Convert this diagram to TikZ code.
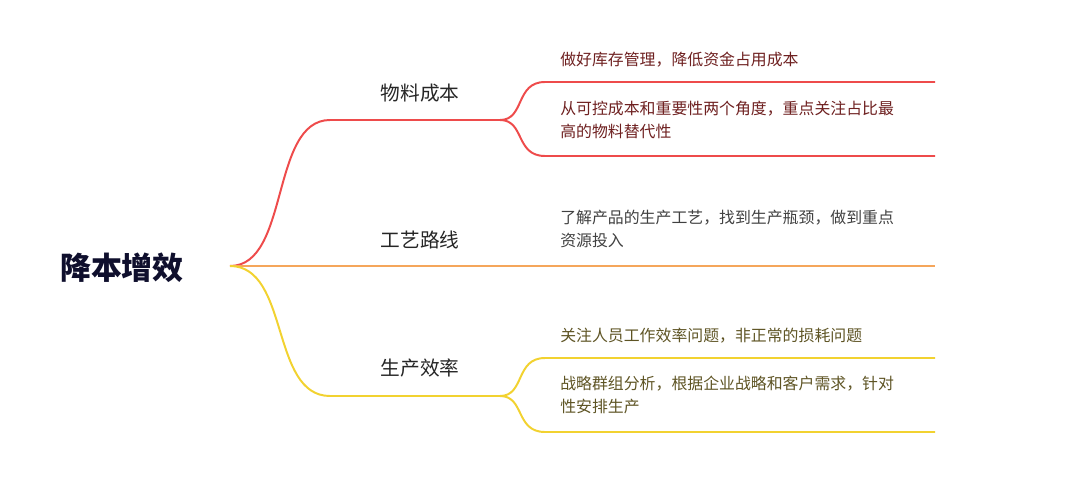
\documentclass[tikz,border=0pt]{standalone}
\usepackage{fontspec}
\setmainfont{Noto Sans CJK SC}
\usetikzlibrary{positioning}
\definecolor{redln}{HTML}{EE4B4B}
\definecolor{orgln}{HTML}{F5A65B}
\definecolor{yelln}{HTML}{F2D230}
\definecolor{redtx}{HTML}{6E2020}
\definecolor{yeltx}{HTML}{5E5424}
\definecolor{roottx}{HTML}{0F0F2D}
\tikzset{
  branch/.style={line width=1.4pt},
  topic/.style={font=\fontsize{14pt}{16pt}\selectfont, text=black!85, inner sep=0pt},
  leaf/.style={font=\fontsize{11.3pt}{16.5pt}\selectfont, anchor=north west, align=left, inner sep=0pt, text width=10.4cm}
}
\begin{document}
\begin{tikzpicture}[x=0.025cm,y=-0.025cm]
\useasboundingbox (0,0) rectangle (1067,487);
\node[font=\bfseries\fontsize{22pt}{24pt}\selectfont, text=roottx] (root) at (122,268) {降本增效};
\coordinate (o) at (230,266);
% 物料成本
\coordinate (r1) at (500,120);
\coordinate (r2) at (935,82);
\coordinate (r3) at (935,156);
\draw[branch, redln] (o) .. controls (290,266) and (270,120) .. (330,120) -- (r1);
\draw[branch, redln] (r1) .. controls (525,120) and (515,82) .. (545,82) -- (r2);
\draw[branch, redln] (r1) .. controls (525,120) and (515,156) .. (545,156) -- (r3);
\node[topic] (t1) at (420,93) {物料成本};
\node[leaf, text=redtx] (l1) at (560,52) {做好库存管理，降低资金占用成本};
\node[leaf, text=redtx] (l2) at (560,101) {从可控成本和重要性两个角度，重点关注占比最\\高的物料替代性};
% 工艺路线
\coordinate (o2) at (935,266);
\draw[branch, orgln] (o) -- (o2);
\node[topic] (t2) at (420,240) {工艺路线};
\node[leaf, text=black!75] (l3) at (560,210) {了解产品的生产工艺，找到生产瓶颈，做到重点\\资源投入};
% 生产效率
\coordinate (y1) at (500,396);
\coordinate (y2) at (935,358);
\coordinate (y3) at (935,432);
\draw[branch, yelln] (o) .. controls (290,266) and (270,396) .. (330,396) -- (y1);
\draw[branch, yelln] (y1) .. controls (525,396) and (515,358) .. (545,358) -- (y2);
\draw[branch, yelln] (y1) .. controls (525,396) and (515,432) .. (545,432) -- (y3);
\node[topic] (t3) at (420,368) {生产效率};
\node[leaf, text=yeltx] (l4) at (560,328) {关注人员工作效率问题，非正常的损耗问题};
\node[leaf, text=yeltx] (l5) at (560,376) {战略群组分析，根据企业战略和客户需求，针对\\性安排生产};
\end{tikzpicture}
\end{document}
